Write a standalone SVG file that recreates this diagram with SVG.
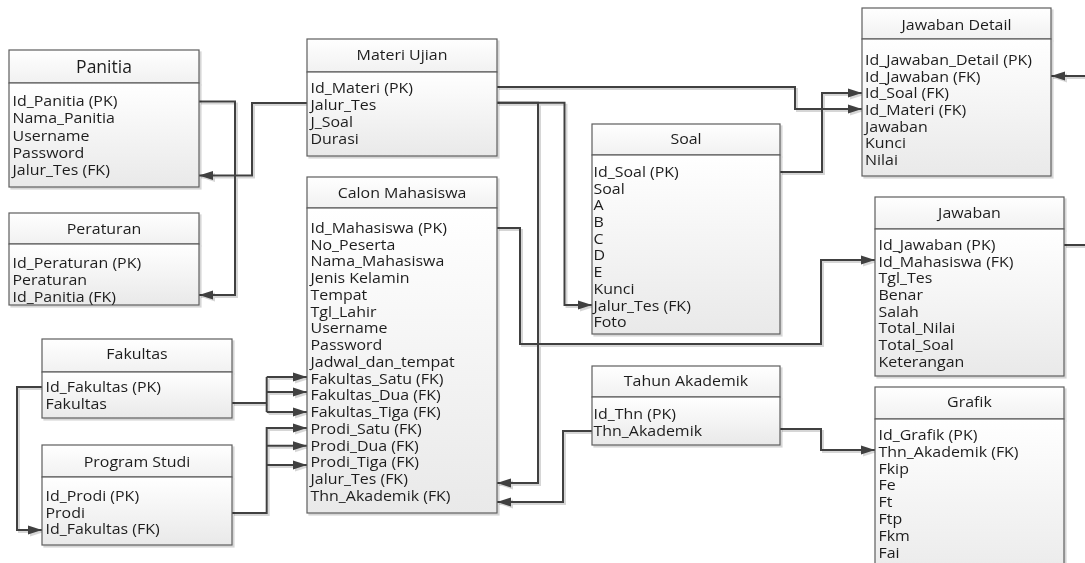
<svg xmlns="http://www.w3.org/2000/svg" width="1085" height="563" viewBox="0 0 1085 563">
<defs>
<linearGradient id="gb" x1="0" y1="0" x2="0" y2="1"><stop offset="0" stop-color="#ffffff"/><stop offset="1" stop-color="#e9e9e9"/></linearGradient>
<linearGradient id="gh" x1="0" y1="0" x2="0" y2="1"><stop offset="0" stop-color="#ffffff"/><stop offset="1" stop-color="#f1f1f1"/></linearGradient>
<filter id="sh" filterUnits="userSpaceOnUse" x="0" y="0" width="1085" height="563">
<feOffset in="SourceAlpha" dx="2" dy="2" result="o"/>
<feFlood flood-color="#000" flood-opacity="0.16"/>
<feComposite in2="o" operator="in"/>
<feMerge><feMergeNode/><feMergeNode in="SourceGraphic"/></feMerge>
</filter>
<marker id="ar" markerUnits="userSpaceOnUse" viewBox="0 0 14 10" markerWidth="14" markerHeight="10" refX="14" refY="5" orient="auto"><path d="M0,0.5 L14,5 L0,9.5 z" fill="#404040"/></marker>
<style>
.hd{fill:url(#gh);stroke:#5e5e5e;stroke-width:1.2}
.bd{fill:url(#gb);stroke:#5e5e5e;stroke-width:1.2}
text{font-family:"Open Sans","Noto Sans",sans-serif;font-size:14px;fill:#1e1e1e}
.t{text-anchor:middle}
.big{font-size:17.5px}
#connectors path{fill:none;stroke:#404040;stroke-width:2}
#connectors path.a{marker-end:url(#ar)}
</style>
</defs>
<rect width="1085" height="563" fill="#ffffff"/>

<g id="connectors" filter="url(#sh)">
<path class="a" d="M497,87 H795 V109 H862"/>
<path class="a" d="M780,172 H822 V93 H862"/>
<path class="a" d="M1064,245 H1100 V76 H1051"/>
<path class="a" d="M307,103 H252 V175.5 H199"/>
<path class="a" d="M199,101.5 H235 V295 H199"/>
<path class="a" d="M497,102.7 H538 V483 H497"/>
<path class="a" d="M497,102.7 H564.5 V305 H592"/>
<path class="a" d="M497,228 H520 V344 H821 V260 H875"/>
<path d="M232,403 H266.7 M266.7,377 V412"/>
<path class="a" d="M266.7,377 H307"/>
<path class="a" d="M266.7,392 H307"/>
<path class="a" d="M266.7,412 H307"/>
<path class="a" d="M232,513 H266.7 V428 H307"/>
<path class="a" d="M266.7,445.7 H307"/>
<path class="a" d="M266.7,465 H307"/>
<path class="a" d="M42,387 H17 V530 H42"/>
<path class="a" d="M592,431 H563 V502 H497"/>
<path class="a" d="M780,429 H821 V450 H875"/>
</g>

<g id="panitia" filter="url(#sh)">
<rect class="hd" x="9" y="50" width="190" height="33"/>
<rect class="bd" x="9" y="83" width="190" height="104"/>
<text class="t big" x="104" y="73">Panitia</text>
<g transform="translate(12.5,0) scale(1.14,1)">
<text x="0" y="106">Id_Panitia (PK)</text>
<text x="0" y="123.5">Nama_Panitia</text>
<text x="0" y="141">Username</text>
<text x="0" y="158">Password</text>
<text x="0" y="175">Jalur_Tes (FK)</text>
</g>
</g>

<g id="peraturan" filter="url(#sh)">
<rect class="hd" x="9" y="213" width="190" height="31"/>
<rect class="bd" x="9" y="244" width="190" height="61"/>
<text class="t" transform="translate(104,234) scale(1.14,1)">Peraturan</text>
<g transform="translate(12.5,0) scale(1.14,1)">
<text x="0" y="268.5">Id_Peraturan (PK)</text>
<text x="0" y="285.2">Peraturan</text>
<text x="0" y="302">Id_Panitia (FK)</text>
</g>
</g>

<g id="materi-ujian" filter="url(#sh)">
<rect class="hd" x="307" y="39" width="190" height="33"/>
<rect class="bd" x="307" y="72" width="190" height="84"/>
<text class="t" transform="translate(402,60) scale(1.14,1)">Materi Ujian</text>
<g transform="translate(310.5,0) scale(1.14,1)">
<text x="0" y="93.5">Id_Materi (PK)</text>
<text x="0" y="110.2">Jalur_Tes</text>
<text x="0" y="126.9">J_Soal</text>
<text x="0" y="143.6">Durasi</text>
</g>
</g>

<g id="calon-mahasiswa" filter="url(#sh)">
<rect class="hd" x="307" y="177" width="190" height="31"/>
<rect class="bd" x="307" y="208" width="190" height="305"/>
<text class="t" transform="translate(402,198) scale(1.14,1)">Calon Mahasiswa</text>
<g transform="translate(310.5,0) scale(1.14,1)">
<text x="0" y="233">Id_Mahasiswa (PK)</text>
<text x="0" y="249.7">No_Peserta</text>
<text x="0" y="266.5">Nama_Mahasiswa</text>
<text x="0" y="283.2">Jenis Kelamin</text>
<text x="0" y="300">Tempat</text>
<text x="0" y="316.7">Tgl_Lahir</text>
<text x="0" y="333.5">Username</text>
<text x="0" y="350.2">Password</text>
<text x="0" y="367">Jadwal_dan_tempat</text>
<text x="0" y="383.7">Fakultas_Satu (FK)</text>
<text x="0" y="400.5">Fakultas_Dua (FK)</text>
<text x="0" y="417.2">Fakultas_Tiga (FK)</text>
<text x="0" y="434">Prodi_Satu (FK)</text>
<text x="0" y="450.7">Prodi_Dua (FK)</text>
<text x="0" y="467.5">Prodi_Tiga (FK)</text>
<text x="0" y="484.2">Jalur_Tes (FK)</text>
<text x="0" y="501">Thn_Akademik (FK)</text>
</g>
</g>

<g id="fakultas" filter="url(#sh)">
<rect class="hd" x="42" y="339" width="190" height="33"/>
<rect class="bd" x="42" y="372" width="190" height="46"/>
<text class="t" transform="translate(137,359) scale(1.14,1)">Fakultas</text>
<g transform="translate(45.5,0) scale(1.14,1)">
<text x="0" y="392">Id_Fakultas (PK)</text>
<text x="0" y="409">Fakultas</text>
</g>
</g>

<g id="program-studi" filter="url(#sh)">
<rect class="hd" x="42" y="445" width="190" height="32"/>
<rect class="bd" x="42" y="477" width="190" height="68"/>
<text class="t" transform="translate(137,467) scale(1.14,1)">Program Studi</text>
<g transform="translate(45.5,0) scale(1.14,1)">
<text x="0" y="501">Id_Prodi (PK)</text>
<text x="0" y="517.7">Prodi</text>
<text x="0" y="534.4">Id_Fakultas (FK)</text>
</g>
</g>

<g id="soal" filter="url(#sh)">
<rect class="hd" x="592" y="124" width="188" height="31"/>
<rect class="bd" x="592" y="155" width="188" height="179"/>
<text class="t" transform="translate(686,144) scale(1.14,1)">Soal</text>
<g transform="translate(593.5,0) scale(1.14,1)">
<text x="0" y="177">Id_Soal (PK)</text>
<text x="0" y="193.7">Soal</text>
<text x="0" y="210.4">A</text>
<text x="0" y="227.1">B</text>
<text x="0" y="243.8">C</text>
<text x="0" y="260.5">D</text>
<text x="0" y="277.2">E</text>
<text x="0" y="293.9">Kunci</text>
<text x="0" y="310.6">Jalur_Tes (FK)</text>
<text x="0" y="327.3">Foto</text>
</g>
</g>

<g id="tahun-akademik" filter="url(#sh)">
<rect class="hd" x="592" y="366" width="188" height="31"/>
<rect class="bd" x="592" y="397" width="188" height="48"/>
<text class="t" transform="translate(686,386) scale(1.14,1)">Tahun Akademik</text>
<g transform="translate(593.5,0) scale(1.14,1)">
<text x="0" y="419">Id_Thn (PK)</text>
<text x="0" y="436">Thn_Akademik</text>
</g>
</g>

<g id="jawaban-detail" filter="url(#sh)">
<rect class="hd" x="862" y="8" width="189" height="31"/>
<rect class="bd" x="862" y="39" width="189" height="137"/>
<text class="t" transform="translate(956.5,30) scale(1.14,1)">Jawaban Detail</text>
<g transform="translate(865,0) scale(1.14,1)">
<text x="0" y="65">Id_Jawaban_Detail (PK)</text>
<text x="0" y="81.7">Id_Jawaban (FK)</text>
<text x="0" y="98.4">Id_Soal (FK)</text>
<text x="0" y="115.1">Id_Materi (FK)</text>
<text x="0" y="131.8">Jawaban</text>
<text x="0" y="148.5">Kunci</text>
<text x="0" y="165.2">Nilai</text>
</g>
</g>

<g id="jawaban" filter="url(#sh)">
<rect class="hd" x="875" y="197" width="189" height="32"/>
<rect class="bd" x="875" y="229" width="189" height="147"/>
<text class="t" transform="translate(969.5,218) scale(1.14,1)">Jawaban</text>
<g transform="translate(878.5,0) scale(1.14,1)">
<text x="0" y="250">Id_Jawaban (PK)</text>
<text x="0" y="266.7">Id_Mahasiswa (FK)</text>
<text x="0" y="283.4">Tgl_Tes</text>
<text x="0" y="300.1">Benar</text>
<text x="0" y="316.8">Salah</text>
<text x="0" y="333.5">Total_Nilai</text>
<text x="0" y="350.2">Total_Soal</text>
<text x="0" y="366.9">Keterangan</text>
</g>
</g>

<g id="grafik" filter="url(#sh)">
<rect class="hd" x="875" y="387" width="189" height="32"/>
<rect class="bd" x="875" y="419" width="189" height="170"/>
<text class="t" transform="translate(969.5,407) scale(1.14,1)">Grafik</text>
<g transform="translate(878.5,0) scale(1.14,1)">
<text x="0" y="440">Id_Grafik (PK)</text>
<text x="0" y="456.8">Thn_Akademik (FK)</text>
<text x="0" y="473.6">Fkip</text>
<text x="0" y="490.4">Fe</text>
<text x="0" y="507.2">Ft</text>
<text x="0" y="524">Ftp</text>
<text x="0" y="540.8">Fkm</text>
<text x="0" y="557.6">Fai</text>
</g>
</g>
</svg>
